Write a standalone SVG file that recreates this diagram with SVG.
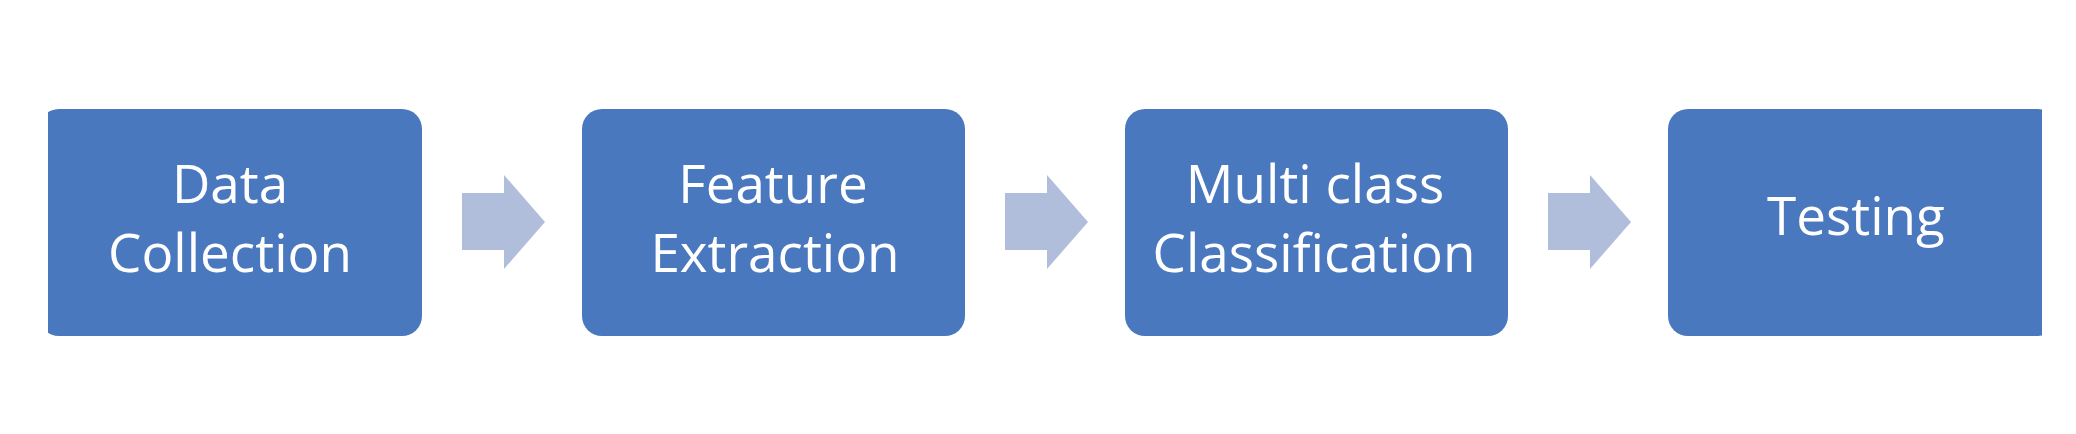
<svg xmlns="http://www.w3.org/2000/svg" width="2076" height="434" viewBox="0 0 2076 434">
  <defs>
    <style>
      .box { fill: #4A78BE; }
      .arrow { fill: #B0BEDC; }
      .lbl { font-family: "Open Sans", "Noto Sans", sans-serif; font-size: 53px; fill: #FFFFFF; text-anchor: middle; }
    </style>
    <clipPath id="frame">
      <rect x="48" y="0" width="1994" height="434"/>
    </clipPath>
  </defs>
  <rect x="0" y="0" width="2076" height="434" fill="#FFFFFF"/>
  <g clip-path="url(#frame)">
    <g id="node-data-collection">
      <rect class="box" x="39" y="109" width="383" height="227" rx="20" ry="20"/>
      <text class="lbl" x="230" y="203">Data</text>
      <text class="lbl" x="230" y="272">Collection</text>
    </g>
    <g id="node-feature-extraction">
      <rect class="box" x="582" y="109" width="383" height="227" rx="20" ry="20"/>
      <text class="lbl" x="773" y="203">Feature</text>
      <text class="lbl" x="775" y="272">Extraction</text>
    </g>
    <g id="node-multiclass">
      <rect class="box" x="1125" y="109" width="383" height="227" rx="20" ry="20"/>
      <text class="lbl" x="1315" y="203">Multi class</text>
      <text class="lbl" x="1314" y="272">Classification</text>
    </g>
    <g id="node-testing">
      <rect class="box" x="1668" y="109" width="390" height="227" rx="20" ry="20"/>
      <text class="lbl" x="1856" y="235">Testing</text>
    </g>
  </g>
  <g id="connectors">
    <polygon class="arrow" points="462,193 504,193 504,175 545,222 504,269 504,250 462,250"/>
    <polygon class="arrow" points="1005,193 1047,193 1047,175 1088,222 1047,269 1047,250 1005,250"/>
    <polygon class="arrow" points="1548,193 1590,193 1590,175 1631,222 1590,269 1590,250 1548,250"/>
  </g>
</svg>
